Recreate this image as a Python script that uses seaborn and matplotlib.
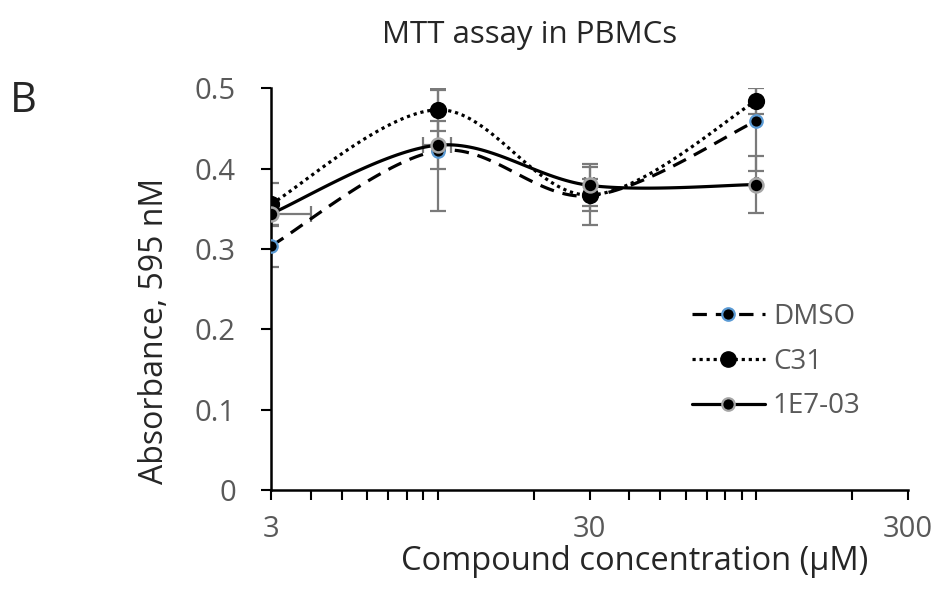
import numpy as np
import matplotlib
matplotlib.use("Agg")
import matplotlib.pyplot as plt
import seaborn as sns
from matplotlib.lines import Line2D
from matplotlib.ticker import FixedLocator, NullFormatter

# data
conc = [3, 10, 30, 100]
dmso = [0.304, 0.422, 0.366, 0.459]
dmso_err = [0.026, 0.075, 0.036, 0.062]
c31 = [0.356, 0.473, 0.367, 0.484]
c31_err = [0.026, 0.026, 0.020, 0.016]
e703 = [0.344, 0.429, 0.379, 0.380]
e703_err = [0.015, 0.030, 0.026, 0.035]
e703_xerr = [1, 1, 1, 1]

sns.set_style("ticks")
plt.rcParams['font.family'] = ['Open Sans', 'DejaVu Sans']


def smooth(xs, ys, n=40):
    # excel style smoothed line (bezier through points), done in log-x space
    lx = np.log10(xs)
    p = np.column_stack([lx, ys])
    pts = []
    for i in range(len(p) - 1):
        p0 = p[i - 1] if i > 0 else p[i]
        p1 = p[i]
        p2 = p[i + 1]
        p3 = p[i + 2] if i + 2 < len(p) else p[i + 1]
        c1 = p1 + (p2 - p0) / 6
        c2 = p2 - (p3 - p1) / 6
        t = np.linspace(0, 1, n)[:, None]
        seg = (1 - t) ** 3 * p1 + 3 * (1 - t) ** 2 * t * c1 + 3 * (1 - t) * t ** 2 * c2 + t ** 3 * p2
        pts.append(seg if i == 0 else seg[1:])
    pts = np.vstack(pts)
    return 10 ** pts[:, 0], pts[:, 1]


fig = plt.figure(figsize=(9.42, 5.95), dpi=100)
ax = fig.add_axes([0.288, 0.176, 0.676, 0.676])

dash = (0, (4.5, 2.8))
dots = (0, (1, 1.2))

err_col = '#7a7a7a'
ekw = dict(fmt='none', ecolor=err_col, elinewidth=1.6, capsize=6, capthick=1.6)
ax.errorbar(conc, dmso, yerr=dmso_err, **ekw)
ax.errorbar(conc, c31, yerr=c31_err, **ekw)
ax.errorbar(conc, e703, yerr=e703_err, xerr=e703_xerr, **ekw)

x, y = smooth(conc, dmso)
sns.lineplot(x=x, y=y, sort=False, ax=ax, color='black', lw=2.3, linestyle=dash)
x, y = smooth(conc, c31)
sns.lineplot(x=x, y=y, sort=False, ax=ax, color='black', lw=2.3, linestyle=dots)
x, y = smooth(conc, e703)
sns.lineplot(x=x, y=y, sort=False, ax=ax, color='black', lw=2.3, linestyle='-')

sns.scatterplot(x=conc, y=dmso, ax=ax, color='black', edgecolor='#5b9bd5', linewidth=1.6, s=80, zorder=5)
sns.scatterplot(x=conc, y=c31, ax=ax, color='black', edgecolor='black', linewidth=1, s=130, zorder=5)
sns.scatterplot(x=conc, y=e703, ax=ax, color='black', edgecolor='#a6a6a6', linewidth=1.8, s=100, zorder=6)

ax.set_xscale('log')
ax.set_xlim(3, 300)
ax.set_ylim(0, 0.5)
ax.set_xticks([3, 30, 300])
ax.set_xticklabels(['3', '30', '300'])
ax.xaxis.set_minor_locator(FixedLocator([4, 5, 6, 7, 8, 9, 10, 20, 40, 50, 60, 70, 80, 90, 100, 200]))
ax.xaxis.set_minor_formatter(NullFormatter())
ax.set_yticks([0, 0.1, 0.2, 0.3, 0.4, 0.5])
ax.set_yticklabels(['0', '0.1', '0.2', '0.3', '0.4', '0.5'])

for s in ['top', 'right']:
    ax.spines[s].set_visible(False)
for s in ['left', 'bottom']:
    ax.spines[s].set_linewidth(1.8)
    ax.spines[s].set_color('black')
ax.tick_params(axis='both', which='major', direction='out', length=7.5, width=1.5, color='black',
               labelsize=21, labelcolor='#595959')
ax.tick_params(axis='x', which='major', pad=10)
ax.tick_params(axis='y', which='major', pad=18)
ax.tick_params(axis='x', which='minor', direction='out', length=7.5, width=1.5, color='black')

ax.set_xlabel('Compound concentration (µM)', fontsize=23.5)
ax.set_ylabel('Absorbance, 595 nM', fontsize=23)
ax.xaxis.set_label_coords(0.571, -0.135)
ax.yaxis.set_label_coords(-0.158, 0.395)
fig.text(0.562, 0.941, 'MTT assay in PBMCs', fontsize=22.5, ha='center', va='center')
fig.text(0.025, 0.83, 'B', fontsize=30, ha='center', va='center')

handles = [
    Line2D([], [], color='black', lw=2.3, linestyle=dash, marker='o', markersize=9,
           markerfacecolor='black', markeredgecolor='#5b9bd5', markeredgewidth=1.6),
    Line2D([], [], color='black', lw=2.3, linestyle=dots, marker='o', markersize=11,
           markerfacecolor='black', markeredgecolor='black'),
    Line2D([], [], color='black', lw=2.3, linestyle='-', marker='o', markersize=9,
           markerfacecolor='black', markeredgecolor='#a6a6a6', markeredgewidth=1.6),
]
leg = ax.legend(handles, ['DMSO', 'C31', '1E7-03'], loc='center left', bbox_to_anchor=(0.622, 0.32),
                frameon=False, fontsize=20, handlelength=2.6, labelspacing=0.6, handletextpad=0.3)
for t in leg.get_texts():
    t.set_color('#595959')

fig.savefig('out.png', dpi=100)
